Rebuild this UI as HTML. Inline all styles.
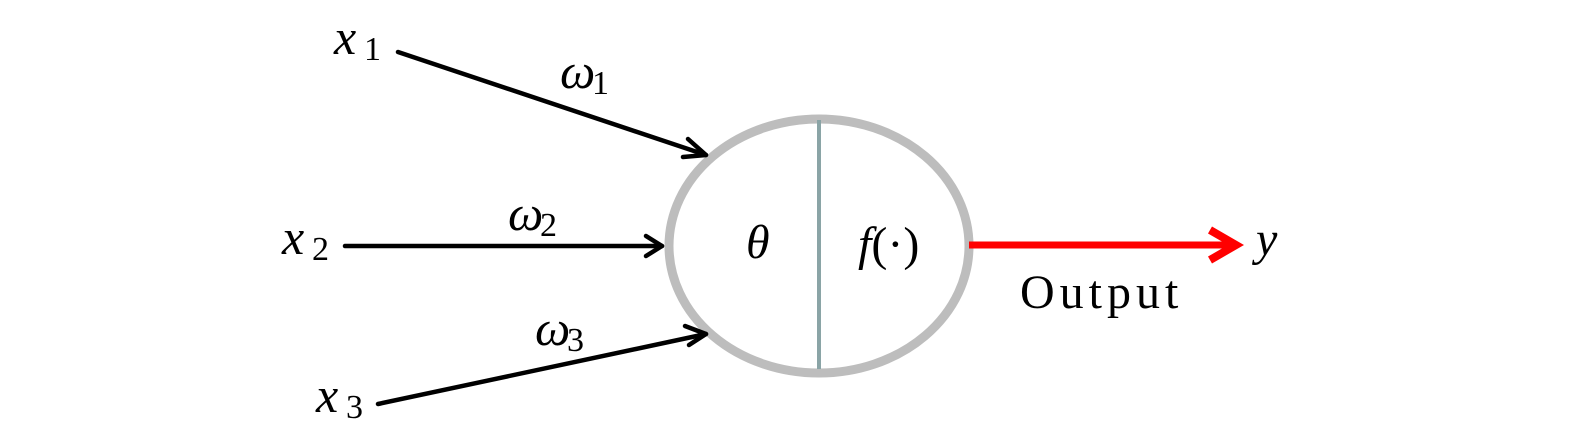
<!DOCTYPE html>
<html><head><meta charset="utf-8"><style>
html,body{margin:0;padding:0;background:#fff;}
svg{display:block}
text{font-family:"Liberation Serif","DejaVu Serif",serif;fill:#000}
.i{font-style:italic}
</style></head><body>
<svg width="1575" height="443" viewBox="0 0 1575 443" xmlns="http://www.w3.org/2000/svg">
<ellipse cx="819" cy="246" rx="150" ry="127" fill="#fff" stroke="#bdbdbd" stroke-width="9"/>
<line x1="819" y1="120" x2="819" y2="369" stroke="#8aa4a6" stroke-width="4"/>
<g stroke="#000" stroke-width="4.5" fill="none" stroke-linecap="round" stroke-linejoin="round">
<line x1="398" y1="52" x2="706" y2="155"/>
<polyline points="688,139 706,155 683,157"/>
<line x1="345" y1="246" x2="662" y2="246"/>
<polyline points="646,236 662,246 646,256"/>
<line x1="378" y1="404" x2="706" y2="334"/>
<polyline points="685,326 706,334 689,345"/>
</g>
<line x1="969" y1="245" x2="1232" y2="245" stroke="#ff0000" stroke-width="7"/>
<polyline points="1210,230 1236,245 1210,260" stroke="#ff0000" stroke-width="8" fill="none" stroke-linejoin="miter"/>
<text x="334" y="54" font-size="50" class="i">x</text><text x="364" y="60" font-size="34">1</text>
<text x="282" y="254" font-size="50" class="i">x</text><text x="312" y="260" font-size="34">2</text>
<text x="316" y="412" font-size="50" class="i">x</text><text x="346" y="418" font-size="34">3</text>
<text x="560" y="88" font-size="50" class="i">ω</text><text x="592" y="94" font-size="34">1</text>
<text x="508" y="230" font-size="50" class="i">ω</text><text x="540" y="236" font-size="34">2</text>
<text x="535" y="345" font-size="50" class="i">ω</text><text x="567" y="351" font-size="34">3</text>
<text x="746" y="258" font-size="48" class="i">θ</text>
<text x="858" y="260" font-size="48"><tspan class="i">f</tspan>(·)</text>
<text x="1256" y="255" font-size="48" class="i">y</text>
<text x="1020" y="308" font-size="48" letter-spacing="5">Output</text>
</svg>
</body></html>
